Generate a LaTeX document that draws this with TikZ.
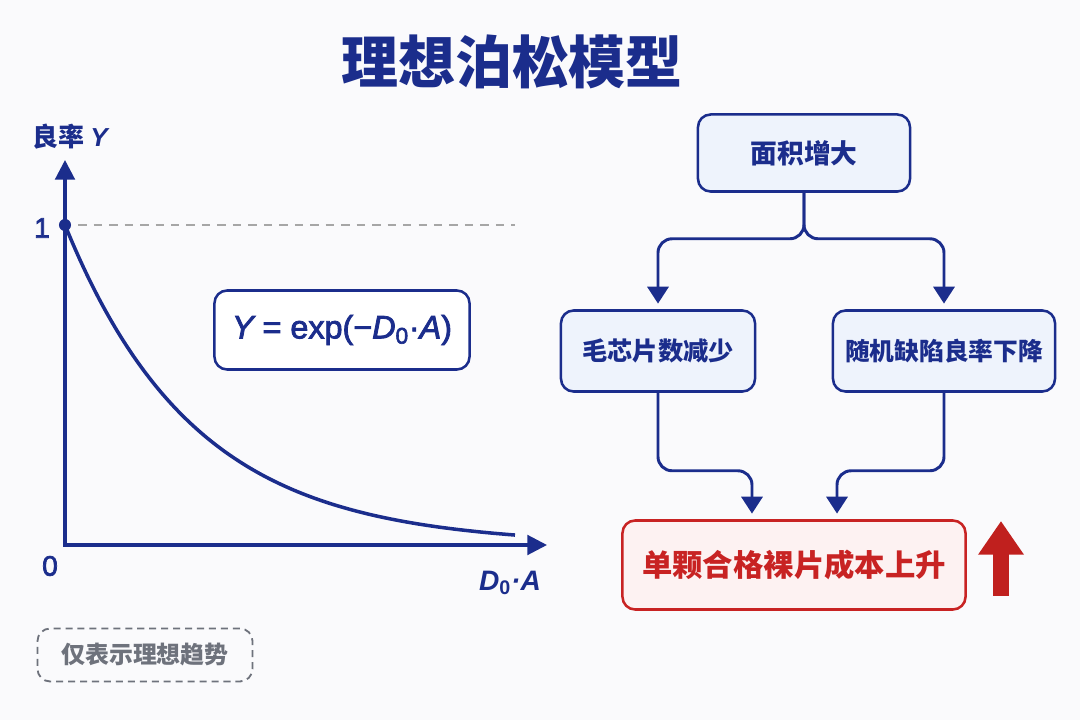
\documentclass[tikz,border=0pt]{standalone}
\usepackage{fontspec}
\setmainfont{Noto Sans CJK SC}
\newfontfamily\latin{Liberation Sans}
\newfontfamily\latinmed{Liberation Sans}[FakeBold=2.5]
\usetikzlibrary{arrows.meta, positioning, calc}
\definecolor{navy}{RGB}{27, 45, 140}
\definecolor{boxfill}{RGB}{238, 243, 252}
\definecolor{costred}{RGB}{200, 35, 35}
\definecolor{costfill}{RGB}{253, 242, 242}
\definecolor{uparrowred}{RGB}{192, 32, 30}
\definecolor{notegray}{RGB}{110, 114, 124}
\definecolor{bggray}{RGB}{250, 250, 252}

\tikzset{
  flowbox/.style={draw=navy, fill=boxfill, line width=1.8pt, rounded corners=9pt, align=center, text=navy, font=\bfseries\fontsize{18}{21}\selectfont, minimum height=2.025cm},
  flow/.style={navy, line width=2.1pt, rounded corners=10pt, -{Triangle[width=15pt,length=12pt]}, shorten >=4pt},
  uparrow/.style={draw=uparrowred, line width=11pt, -{Triangle[width=31pt,length=24pt]}},
}

\begin{document}
\begin{tikzpicture}[x=0.025cm, y=-0.025cm]
  \fill[bggray] (0,0) rectangle (1080,720);
  \useasboundingbox (0,0) rectangle (1080,720);

  % Title
  \node[font=\bfseries\fontsize{40.5}{46}\selectfont, text=navy] (title) at (512,62) {理想泊松模型};

  % Axes and curve
  \coordinate (origin) at (65,545);
  \coordinate (ytip) at (65,160);
  \coordinate (xtip) at (547,545);
  \draw[navy, line width=2.2pt, {Triangle[width=14pt,length=14pt]}-{Triangle[width=14pt,length=14pt]}] (ytip) -- (origin) -- (xtip);
  \coordinate (ymax) at (65,225);
  \coordinate (ymaxend) at (515,225);
  \draw[gray!70, line width=1.1pt, dash pattern=on 6pt off 5pt] ([xshift=0.33cm]ymax) -- (ymaxend);
  \draw[navy, line width=2.5pt] plot[domain=0:450, samples=80, smooth] ({65+\x},{545-320*exp(-0.0077*\x)});
  \fill[navy] (ymax) circle[radius=4.3pt];

  \node[font=\bfseries\fontsize{18.5}{22}\selectfont, text=navy] (ylabel) at (70,137) {良率 {\latin\bfseries\itshape Y}};
  \node[font=\latinmed\fontsize{20}{24}\selectfont, text=navy] (one) at (42,228) {1};
  \node[font=\latinmed\fontsize{20}{24}\selectfont, text=navy] (zero) at (50,566) {0};
  \node[font=\latin\bfseries\itshape\fontsize{20}{24}\selectfont, text=navy] (xlabel) at (510,583) {D\textsubscript{\upshape 0}·A};

  % Formula
  \node[draw=navy, fill=white, line width=1.8pt, rounded corners=9pt, minimum width=6.375cm, minimum height=1.975cm, font=\latinmed\fontsize{23}{27}\selectfont, text=navy] (formula) at (342,330) {{\itshape Y} = exp(−{\itshape D}\textsubscript{0}·{\itshape A})};

  % Flow chart
  \node[flowbox, minimum width=5.3cm, minimum height=1.925cm, font=\bfseries\fontsize{19}{22}\selectfont] (area) at (804,153) {面积增大};
  \node[flowbox, minimum width=4.85cm] (count) at (658,351) {毛芯片数减少};
  \node[flowbox, minimum width=5.55cm, font=\bfseries\fontsize{17.6}{21}\selectfont] (yield) at (944,351) {随机缺陷良率下降};
  \node[flowbox, draw=costred, fill=costfill, text=costred, minimum width=8.575cm, minimum height=2.225cm, font=\bfseries\fontsize{21.6}{25}\selectfont] (cost) at (794,565) {单颗合格裸片成本上升};

  \draw[flow] (area.south) -- ++(0,46) -| (count.north);
  \draw[flow] (area.south) -- ++(0,46) -| (yield.north);
  \draw[flow] (count.south) -- ++(0,78) -| ([xshift=-1.05cm]cost.north);
  \draw[flow] (yield.south) -- ++(0,78) -| ([xshift=1.075cm]cost.north);

  % Cost goes up
  \coordinate (upbase) at (1001,596);
  \draw[uparrow] (upbase) -- ++(0,-75);

  % Note
  \node[draw=notegray, dash pattern=on 5pt off 3.5pt, line width=1.3pt, rounded corners=9pt, minimum width=5.375cm, minimum height=1.325cm, text=notegray, font=\bfseries\fontsize{17}{20}\selectfont] (note) at (145,655) {仅表示理想趋势};
\end{tikzpicture}
\end{document}
